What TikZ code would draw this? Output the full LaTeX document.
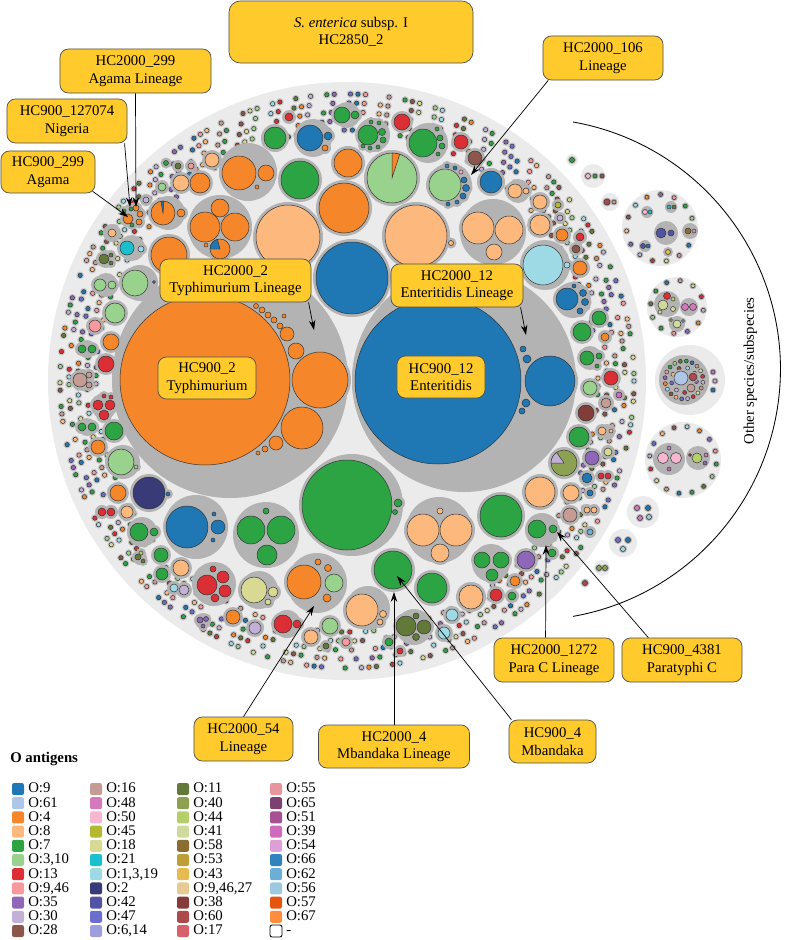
\documentclass[tikz,border=0pt]{standalone}
\usepackage{fontspec}
\setmainfont{Liberation Serif}
\usetikzlibrary{arrows.meta}
\definecolor{o9}{HTML}{1F77B4}\definecolor{o61}{HTML}{AEC7E8}\definecolor{o4}{HTML}{F5862A}
\definecolor{o8}{HTML}{FDB97D}\definecolor{o7}{HTML}{2CA444}\definecolor{o310}{HTML}{98D28C}
\definecolor{o13}{HTML}{DC2F35}\definecolor{o946}{HTML}{F7989C}\definecolor{o35}{HTML}{8E67B8}
\definecolor{o30}{HTML}{C3B0D6}\definecolor{o28}{HTML}{8C564B}\definecolor{o16}{HTML}{C49C94}
\definecolor{o48}{HTML}{D579BF}\definecolor{o50}{HTML}{F7B6D2}\definecolor{o45}{HTML}{B2B82F}
\definecolor{o18}{HTML}{D8D993}\definecolor{o21}{HTML}{1BBFCD}\definecolor{o1319}{HTML}{9EDAE5}
\definecolor{o2}{HTML}{393B79}\definecolor{o42}{HTML}{5254A3}\definecolor{o47}{HTML}{6B6ECF}
\definecolor{o614}{HTML}{9C9EDE}\definecolor{o11}{HTML}{637939}\definecolor{o40}{HTML}{8CA252}
\definecolor{o44}{HTML}{B5CF6B}\definecolor{o41}{HTML}{CEDB9C}\definecolor{o58}{HTML}{8C6D31}
\definecolor{o53}{HTML}{BD9E39}\definecolor{o43}{HTML}{E7BA52}\definecolor{o94627}{HTML}{E7CB94}
\definecolor{o38}{HTML}{843C39}\definecolor{o60}{HTML}{AD494A}\definecolor{o17}{HTML}{D6616B}
\definecolor{o55}{HTML}{E7969C}\definecolor{o65}{HTML}{7B4173}\definecolor{o51}{HTML}{A55194}
\definecolor{o39}{HTML}{CE6DBD}\definecolor{o54}{HTML}{DE9ED6}\definecolor{o66}{HTML}{3182BD}
\definecolor{o62}{HTML}{6BAED6}\definecolor{o56}{HTML}{9ECAE1}\definecolor{o57}{HTML}{E6550D}
\definecolor{o67}{HTML}{FD8D3C}
\definecolor{diskgray}{HTML}{EBEBEB}\definecolor{grpgray}{HTML}{B3B3B3}
\definecolor{halogray}{HTML}{C6C6C6}\definecolor{labyel}{HTML}{FFCA2C}
\colorlet{dc0}{o7}\colorlet{dc1}{o4}\colorlet{dc2}{o8}\colorlet{dc3}{o13}
\colorlet{dc4}{o9}\colorlet{dc5}{o310}\colorlet{dc6}{o35}\colorlet{dc7}{o28}
\colorlet{dc8}{o30}\colorlet{dc9}{o16}\colorlet{dc10}{o11}\colorlet{dc11}{o946}
\colorlet{dc12}{o1319}\colorlet{dc13}{o47}\colorlet{dc14}{o18}\colorlet{dc15}{o7}
\def\grlist{230/380/118, 464/380/112, 352/505/51, 248/172/29, 450/185/22, 493/232/33, 220/227/32,
168/213/17, 313/138/19, 373/135/17, 428/143/20, 347/115/13, 518/191/12, 545/265/25, 573/300/18,
590/358/12, 607/432/8, 196/527/32, 266/535/33, 439/530/33, 542/530/17, 317/583/30, 491/563/19,
368/608/22, 414/627/18, 287/624/14, 214/584/22, 259/590/19, 203/621/8, 142/532/15, 140/558/7,
123/462/17, 104/406/13, 83/380/11, 87/349/9, 87/427/9, 106/285/12, 140/283/18, 132/248/13,
106/259/9, 112/233/9, 133/215/12}
\def\bulist{205/380/85/o4, 320/380/28/o4, 302/428/21/o4, 296/351/8/o4, 287/334/7/o4, 276/443/7/o4,
265/449/3/o4, 258/453/2/o4, 256/306/2.5/o4, 262/310/3/o4, 268/315/3/o4, 274/320/3/o4, 280/326/3/o4,
284/316/2/o4, 438/381/83/o9, 550/381/25/o9, 523/349/3/o9, 527/359/4/o9, 526/403/4/o9, 522/411/3/o9,
347/505/45/o7, 398/503/4/o7, 395/512/2.5/o7,
239/173/17/o4, 266/173/8/o4, 257/187/2/o4, 300/180/19/o7, 348/163/14/o4, 392/178/25/o310,
445/185/16/o310, 464/180/3/o9, 466/188/3.5/o9, 463/196/3/o9, 457/202/2/o66, 448/204/2/o9,
455/168/2/o9, 447/166/2/o66, 461/172/2/o50,
491/182/11/o9, 288/237/32/o8, 344/208/25/o4, 416/236/31/o8, 451/243/2.5/o8,
478/228/16/o8, 509/230/14/o8, 494/252/8/o8, 352/278/36/o9,
205/227/15/o4, 235/227/14/o4, 220/208/9/o4, 220/249/10/o4, 206/245/2/o4,
163/213/12/o4, 181/213/4/o4, 169/255/18/o4,
200/183/10/o4, 181/183/8/o8, 212/160/7/o8, 162/187/4/o310, 146/200/3/o30, 166/163/2.5/o7,
191/166/3/o946, 178/166/3/o11,
275/138/11/o7, 310/138/13/o9, 328/136/4/o9, 325/148/3/o4,
368/135/10/o7, 382/132/3.5/o7, 383/140/3/o7, 378/147/2/o7, 370/148/2/o7, 363/146/2/o7,
379/123/2/o7, 371/122/2/o7,
423/143/14/o7, 440/138/3/o7, 442/146/3/o7, 438/154/2/o7, 437/129/2/o7,
402/122/8/o13, 461/142/7/o13, 475/158/7/o28, 342/115/8/o7, 355/115/4/o7, 289/117/4/o13,
515/191/7/o8, 526/191/3/o8, 540/202/7/o8, 540/225/10/o8, 562/235/6/o4, 580/237/4/o13,
558/205/3/o45, 560/218/3/o30, 576/249/4/o28, 580/268/7/o4,
543/265/20/o1319, 567/265/3/o1319,
567/299/11/o9, 583/293/3.5/o9, 585/302/3.5/o9, 580/311/3/o9, 574/286/2/o9,
599/318/7/o7, 582/332/9/o7, 605/337/4/o4, 587/358/7/o7, 599/356/3/o7, 597/366/2/o7,
611/378/7/o13, 590/388/7/o310, 606/403/5/o16, 586/413/8/o38, 619/395/3/o39, 579/437/10/o7,
602/431/4/o8, 611/431/2/o8,
564/463/13/o40, 592/458/7/o35, 608/452/4/o18, 587/478/5/o9, 601/476/3/o13, 608/476/3/o13,
590/493/3/o9, 587/510/3/o8, 594/510/3/o8, 590/532/3/o62, 552/553/4/o7,
540/492/15/o8, 571/493/8/o8, 570/515/7/o16,
501/516/21/o7, 537/529/9/o7, 553/529/4/o7,
187/527/21/o9, 218/527/7/o9, 214/514/2/o9, 213/540/2/o9, 149/493/16/o2, 168/494/2/o9,
251/530/14/o7, 281/530/14/o7, 267/555/10/o7, 266/511/3/o7,
423/530/16/o8, 456/530/16/o8, 440/553/9/o8, 440/511/3/o8,
304/582/17/o4, 334/583/9/o310, 318/562/3/o4, 328/568/3.5/o4, 327/598/4/o4,
393/570/19/o7, 432/588/15/o7, 471/597/12/o8, 482/560/8/o7, 501/560/8/o7, 492/575/6/o7,
526/560/9/o35,
362/610/16/o8, 383/614/3.5/o8, 380/622/3/o8,
406/626/10/o11, 424/627/7/o11, 416/637/3.5/o11, 416/616/3/o11, 452/615/6/o1319, 444/633/6/o1319,
283/624/9/o13, 297/624/4/o13, 330/626/8/o310, 311/637/7/o8,
207/585/10/o13, 223/577/6/o13, 225/591/6/o13, 215/598/4/o13, 213/569/3/o13,
254/590/13/o18, 273/592/5/o18, 268/602/3/o18, 233/617/7/o4, 255/628/6/o30,
200/620/3/o35, 206/619/2.5/o35, 203/626/2/o35,
346/642/4/o946, 326/646/3/o11, 389/642/4/o7, 400/651/3/o13, 515/581/5/o4, 496/595/6/o13,
512/596/4/o7,
118/493/8/o4, 139/532/9/o7, 154/532/4/o7, 102/512/4/o13, 111/512/4/o13, 127/512/6/o8,
161/555/7/o7, 162/574/6/o7, 181/568/8/o8, 184/590/5/o30, 174/588/4/o1319, 138/557/3/o11,
143/561/2/o11, 141/553/2/o44,
121/462/13/o310, 136/467/2/o310, 114/431/9/o7, 98/447/7/o4,
98/405/5/o13, 110/405/5/o13, 104/415/5/o13, 104/396/2/o13, 111/397/2/o13,
80/380/7/o16, 89/375/3/o16, 89/385/3/o16, 82/349/4/o7, 92/349/4/o7, 82/427/4/o7, 92/427/4/o7,
106/364/8/o13, 111/342/8/o4, 95/326/6/o946, 115/313/10/o310, 100/285/6/o310, 112/285/4/o310,
135/283/13/o310, 154/282/1.5/o47, 127/248/7/o21, 141/249/3/o1319, 104/259/5/o11, 111/255/2/o11,
111/263/2/o11, 112/233/4/o8,
128/219/5/o4, 136/208/3/o4, 140/214/3/o4, 139/222/3/o4, 131/209/2/o7, 124/211/2/o7, 132/225/2/o7}
\def\osplist{572/160/2.5/o7, 588/176/2.5/o50, 595/176/2/o7, 602/176/2/o28, 607/202/3/o60,
614/202/2/o16, 661/233/5/o42, 671/233/3/o42, 688/231/3/o58, 694/231/2/o16, 645/212/2.5/o50,
650/212/2/o21, 669/207/2/o21, 674/207/2/o11, 643/246/2.5/o42, 648/246/2/o9, 668/252/2.5/o43,
663/305/5/o41, 667/296/3.5/o13, 673/309/2.5/o41, 660/312/2/o41, 673/299/2/o44, 685/307/3.5/o48,
693/307/3.5/o48, 677/324/4/o41, 671/320/1.5/o44, 683/321/1.5/o56,
681/378/7/o61, 693/377/4/o60, 691/388/4/o16, 713/372/2/o39, 715/381/2/o54, 713/390/2/o9,
663/458/5.5/o50, 676/458/5.5/o50, 669/448/2/o48, 669/469/2/o39, 697/458/5/o44, 706/455/2/o48,
705/463/2/o35, 690/455/1.5/o13,
637/508/2.5/o48, 648/508/2.5/o9, 640/518/2.5/o48, 649/517/2.5/o56, 618/540/2.5/o47,
628/540/2.5/o9, 623/549/2.5/o1319, 599/568/2.5/o40, 605/568/2.5/o40, 585/583/2.5/o60}
\begin{document}
\begin{tikzpicture}[x=0.025cm, y=-0.025cm,
  grp/.style={fill=grpgray},
  halo/.style={fill=halogray},
  bub/.style={draw=black!80, line width=0.35pt},
  osp/.style={fill=diskgray},
  lab/.style={draw=black!70, fill=labyel, line width=0.5pt, rounded corners=6pt, align=center,
    inner sep=1pt, font=\fontsize{10.5}{12.5}\selectfont},
  txt/.style={inner sep=0pt, text height=7pt, text depth=1.5pt, font=\fontsize{10.5}{12.5}\selectfont},
  arr/.style={-{Stealth[length=7pt,width=4.6pt]}, line width=0.5pt},
  sw/.style={rounded corners=1.5pt}]
\useasboundingbox (0,0) rectangle (784,940);
\fill[diskgray] (347,381) circle (299);
\begin{scope}[shift={(347,381)}]
\foreach \rr/\nn/\jj in {289/164/0, 279/158/1, 269/152/2, 259/146/3, 249/140/4}{
  \foreach \i in {1,...,\nn}{
    \pgfmathtruncatemacro\sk{mod(\i*11+\jj*5,7)}
    \ifnum\sk>0
    \pgfmathsetmacro\aa{(360/\nn)*(\i+0.37*\jj)+0.35*mod(\i*13,5)-0.7}
    \pgfmathsetmacro\dd{\rr+mod(\i*5+\jj,5)-2}
    \pgfmathtruncatemacro\kk{mod(\i*7+\jj*3,16)}
    \fill[halo] (\aa:\dd) circle (3.8);
    \filldraw[bub,fill=dc\kk] (\aa:\dd) circle (2.2);
    \fi
  }
}
\end{scope}
\foreach \x/\y/\r in \grlist \fill[grp] (\x,\y) circle (\r);
\foreach \x/\y/\r/\c in \bulist \fill[grp] (\x,\y) circle (\r+3);
\foreach \x/\y/\r/\c in \bulist \filldraw[bub,fill=\c] (\x,\y) circle (\r);
\filldraw[bub,fill=o4] (392,178) -- +(-90:25) arc[start angle=-90, end angle=-72, radius=25] -- cycle;
\filldraw[bub,fill=o9] (163,213) -- +(-100:12) arc[start angle=-100, end angle=-86, radius=12] -- cycle;
\filldraw[bub,fill=o9] (220,249) -- +(-180:10) arc[start angle=-180, end angle=-105, radius=10] -- cycle;
\filldraw[bub,fill=o30] (564,463) -- +(-180:13) arc[start angle=-180, end angle=-125, radius=13] -- cycle;
\foreach \x/\y/\r in {572/160/6, 593/176/12, 610/202/9, 660/228/38, 677/307/30, 690/380/35,
  683/460/38, 643/512/16, 623/543/14, 602/568/8, 585/583/5} \fill[osp] (\x,\y) circle (\r);
\foreach \x/\y/\r in {666/233/12, 690/231/8, 647/212/6, 671/207/6, 645/246/6, 668/252/5, 667/304/13,
  689/307/9, 677/324/8, 684/380/25, 669/459/16, 698/458/12} \fill[grp] (\x,\y) circle (\r);
\foreach \cx/\cy/\rr/\nd in {660/228/33.5/15, 677/307/26.5/12, 684/380/19/20, 683/460/33.5/16, 684/380/12.5/9}{
  \foreach \q in {1,...,\nd}{
    \pgfmathsetmacro\aa{(360/\nd)*\q+7}
    \pgfmathtruncatemacro\kk{mod(\q*5+\nd,16)}
    \fill[grp] ([shift={(\cx,\cy)}]\aa:\rr) circle (3.5);
    \filldraw[bub,fill=dc\kk] ([shift={(\cx,\cy)}]\aa:\rr) circle (2);
  }
}
\foreach \x/\y/\r/\c in \osplist \fill[grp] (\x,\y) circle (\r+1.5);
\foreach \x/\y/\r/\c in \osplist \filldraw[bub,fill=\c] (\x,\y) circle (\r);
\coordinate (osA) at (573,122);
\draw[line width=0.6pt] (osA) arc[start angle=-80, end angle=80, radius=251];
\node[txt, rotate=90] (ost) at (750,371) {Other species/subspecies};
\node[lab, minimum width=6.1cm, minimum height=1.55cm, rounded corners=8pt] (top) at (351,32) {\textit{S. enterica} subsp. I\\HC2850\_2};
\node[lab, minimum width=3.775cm, minimum height=1.1cm] (agl) at (135.5,71) {HC2000\_299\\Agama Lineage};
\node[lab, minimum width=3cm, minimum height=1.1cm] (nig) at (67,121) {HC900\_127074\\Nigeria};
\node[lab, minimum width=2.35cm, minimum height=1.05cm] (aga) at (48,172) {HC900\_299\\Agama};
\node[lab, minimum width=3cm, minimum height=1.1cm] (l106) at (603,58) {HC2000\_106\\Lineage};
\node[lab, minimum width=3.775cm, minimum height=1.075cm] (tyl) at (235.5,280.5) {HC2000\_2\\Typhimurium Lineage};
\node[lab, minimum width=3.3cm, minimum height=1.075cm] (enl) at (457,285.5) {HC2000\_12\\Enteritidis Lineage};
\node[lab, minimum width=2.45cm, minimum height=1.05cm] (ty) at (207,378) {HC900\_2\\Typhimurium};
\node[lab, minimum width=2.2cm, minimum height=1.05cm] (en) at (441,377) {HC900\_12\\Enteritidis};
\node[lab, minimum width=2.475cm, minimum height=1.1cm] (l54) at (243.5,739) {HC2000\_54\\Lineage};
\node[lab, minimum width=3.775cm, minimum height=1.075cm] (mbl) at (394,746.5) {HC2000\_4\\Mbandaka Lineage};
\node[lab, minimum width=2.175cm, minimum height=1.075cm] (mb) at (552.5,741.5) {HC900\_4\\Mbandaka};
\node[lab, minimum width=3cm, minimum height=1.1cm] (pcl) at (554,660) {HC2000\_1272\\Para C Lineage};
\node[lab, minimum width=3cm, minimum height=1.1cm] (pc) at (682,660) {HC900\_4381\\Paratyphi C};
\coordinate (tAgl) at (136,207);
\coordinate (tNig) at (130,207);
\coordinate (tAga) at (128,217);
\coordinate (t106) at (471,175);
\coordinate (tTyl) at (314,330);
\coordinate (tEnl) at (526,335);
\coordinate (t54) at (314,606);
\coordinate (t4) at (394,592);
\coordinate (t900) at (397,576);
\coordinate (t1272) at (546,545);
\coordinate (t4381) at (557,532);
\draw[arr] (agl.south) -- (tAgl);
\draw[arr] ([xshift=-2pt]nig.south east) -- (tNig);
\draw[arr] ([xshift=-2pt,yshift=1.5pt]aga.south east) -- (tAga);
\draw[arr] ([xshift=4pt]l106.south west) -- (t106);
\draw[arr] ([xshift=-2pt]tyl.south east) -- (tTyl);
\draw[arr] ([xshift=-2pt]enl.south east) -- (tEnl);
\draw[arr] (l54.north) -- (t54);
\draw[arr] (mbl.north) -- (t4);
\draw[arr] ([xshift=2pt]mb.north west) -- (t900);
\draw[arr] ([xshift=-6pt]pcl.north) -- (t1272);
\draw[arr] ([xshift=19pt]pc.north west) -- (t4381);
\node[txt, anchor=west, font=\bfseries\fontsize{10.5}{12.5}\selectfont] (ohd) at (10,759) {O antigens};
\foreach \cl/\tx [count=\n from 0] in {o9/O:9, o61/O:61, o4/O:4, o8/O:8, o7/O:7, o310/{O:3,10},
  o13/O:13, o946/{O:9,46}, o35/O:35, o30/O:30, o28/O:28, o16/O:16, o48/O:48, o50/O:50, o45/O:45,
  o18/O:18, o21/O:21, o1319/{O:1,3,19}, o2/O:2, o42/O:42, o47/O:47, o614/{O:6,14}, o11/O:11,
  o40/O:40, o44/O:44, o41/O:41, o58/O:58, o53/O:53, o43/O:43, o94627/{O:9,46,27}, o38/O:38,
  o60/O:60, o17/O:17, o55/O:55, o65/O:65, o51/O:51, o39/O:39, o54/O:54, o66/O:66, o62/O:62,
  o56/O:56, o57/O:57, o67/O:67}{
  \pgfmathtruncatemacro\cx{div(\n,11)}
  \pgfmathtruncatemacro\ry{mod(\n,11)}
  \pgfmathsetmacro\lx{{18,96,183,276}[\cx]}
  \pgfmathsetmacro\ly{789+14.2*\ry}
  \fill[sw,\cl] (\lx-6,\ly-6) rectangle (\lx+6,\ly+6);
  \node[txt, anchor=west] (lg\n) at (\lx+10,\ly) {\tx};
}
\draw[sw, fill=white, line width=0.6pt] (270,925) rectangle (282,937);
\node[txt, anchor=west] (lgd) at (286,931) {-};
\end{tikzpicture}
\end{document}
